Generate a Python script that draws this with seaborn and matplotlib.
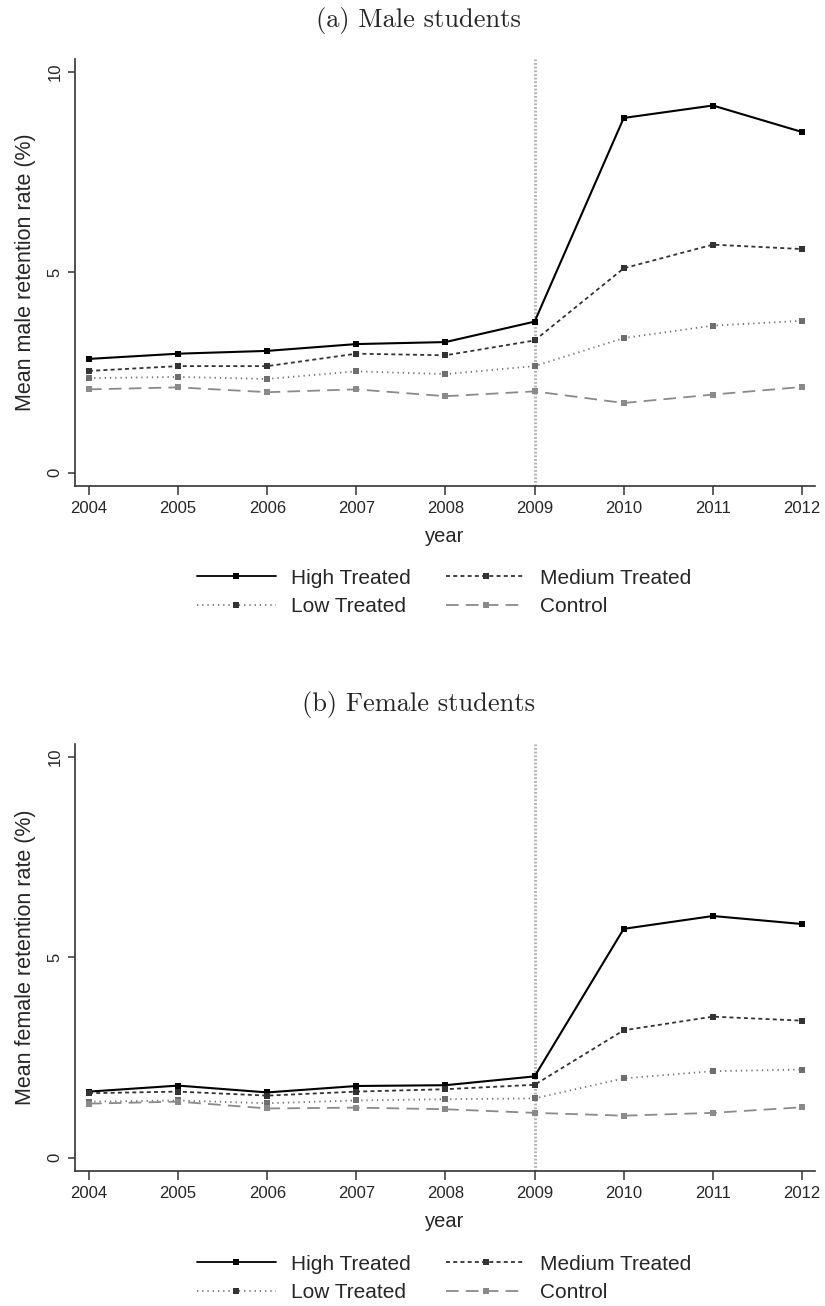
import numpy as np
import pandas as pd
import matplotlib
matplotlib.use("Agg")
import matplotlib.pyplot as plt
import seaborn as sns

# data
years = [2004, 2005, 2006, 2007, 2008, 2009, 2010, 2011, 2012]
groups = ["High Treated", "Medium Treated", "Low Treated", "Control"]

male_high = [2.84, 2.97, 3.04, 3.21, 3.26, 3.77, 8.85, 9.16, 8.50]
male_medium = [2.54, 2.66, 2.66, 2.97, 2.93, 3.30, 5.10, 5.69, 5.58]
male_low = [2.36, 2.39, 2.34, 2.53, 2.46, 2.66, 3.36, 3.67, 3.79]
male_control = [2.08, 2.13, 2.01, 2.08, 1.91, 2.03, 1.74, 1.95, 2.14]

female_high = [1.65, 1.80, 1.63, 1.79, 1.81, 2.03, 5.71, 6.03, 5.83]
female_medium = [1.61, 1.65, 1.55, 1.65, 1.71, 1.82, 3.18, 3.52, 3.42]
female_low = [1.40, 1.43, 1.36, 1.43, 1.46, 1.48, 1.98, 2.16, 2.20]
female_control = [1.35, 1.40, 1.23, 1.25, 1.21, 1.12, 1.05, 1.12, 1.26]

panels = [
    ("(a) Male students", "Mean male retention rate (%)",
     [male_high, male_medium, male_low, male_control]),
    ("(b) Female students", "Mean female retention rate (%)",
     [female_high, female_medium, female_low, female_control]),
]

sns.set_style("white")
plt.rcParams['font.family'] = ['Liberation Sans', 'DejaVu Sans']

palette = {"High Treated": "#000000", "Medium Treated": "#333333",
           "Low Treated": "#6e6e6e", "Control": "#8a8a8a"}
dashes = {"High Treated": "", "Medium Treated": (2.2, 1.8),
          "Low Treated": (0.7, 2.2), "Control": (7, 4)}
marker_colors = {"High Treated": "#000000", "Medium Treated": "#333333",
                 "Low Treated": "#333333", "Control": "#8a8a8a"}

W, H = 825, 1306
fig = plt.figure(figsize=(W / 100, H / 100), dpi=100)

# axes boxes in pixels: (top of axes, title y, legend y)
boxes = [(59, 20, 550), (744, 704, 1236)]

for (title, ylabel, series), (top, ty, ly) in zip(panels, boxes):
    ax = fig.add_axes([75 / W, 1 - (top + 427) / H, 740 / W, 427 / H])
    rows = []
    for g, vals in zip(groups, series):
        for yr, v in zip(years, vals):
            rows.append({"year": yr, "value": v, "group": g})
    df = pd.DataFrame(rows)

    ax.axvline(2009, color="#b5b5b5", lw=2.2, linestyle=(0, (0.6, 0.6)), zorder=1)
    sns.lineplot(data=df, x="year", y="value", hue="group", style="group",
                 hue_order=groups, style_order=groups, palette=palette,
                 dashes=dashes, markers={g: "s" for g in groups},
                 markersize=4.2, markeredgewidth=0, lw=1.3, ax=ax, zorder=3)

    for line in ax.get_lines():
        lab = line.get_label()
        if lab in marker_colors:
            line.set_markerfacecolor(marker_colors[lab])
            line.set_markeredgecolor(marker_colors[lab])
    ax.get_lines()[1].set_linewidth(1.5)

    handles, labels = ax.get_legend_handles_labels()
    hd = dict(zip(labels, handles))
    ax.get_legend().remove()
    for g in groups:
        h = hd[g]
        h.set_markerfacecolor(marker_colors[g])
        h.set_markeredgecolor(marker_colors[g])
        h.set_markeredgewidth(0)
    order = ["High Treated", "Low Treated", "Medium Treated", "Control"]
    fig.legend([hd[g] for g in order], order, loc="upper center",
               bbox_to_anchor=(444 / W, 1 - ly / H), ncol=2, frameon=False,
               fontsize=15, handlelength=3.8, handletextpad=0.72,
               columnspacing=1.7, labelspacing=0.45)

    ax.set_xlim(2003.843, 2012.146)
    ax.set_ylim(-0.33, 10.32)
    ax.set_xticks(years)
    ax.set_yticks([0, 5, 10])
    ax.set_xlabel("year", fontsize=14.5, labelpad=8)
    ax.set_ylabel(ylabel, fontsize=15.5, labelpad=8)
    ax.tick_params(axis="x", direction="out", length=6.5, width=1.1,
                   color="#333333", labelsize=12, pad=4, bottom=True)
    ax.tick_params(axis="y", direction="out", length=5, width=1.1,
                   color="#333333", labelsize=12, pad=4, left=True,
                   labelrotation=90)
    for t in ax.get_yticklabels():
        t.set_va("center")
    sns.despine(ax=ax)
    for s in ["left", "bottom"]:
        ax.spines[s].set_color("#333333")
        ax.spines[s].set_linewidth(1.2)

    fig.text(418 / W, 1 - ty / H, title, ha="center", va="center",
             fontsize=19, family="cmr10")

fig.savefig("out.png", dpi=100, facecolor="white")
